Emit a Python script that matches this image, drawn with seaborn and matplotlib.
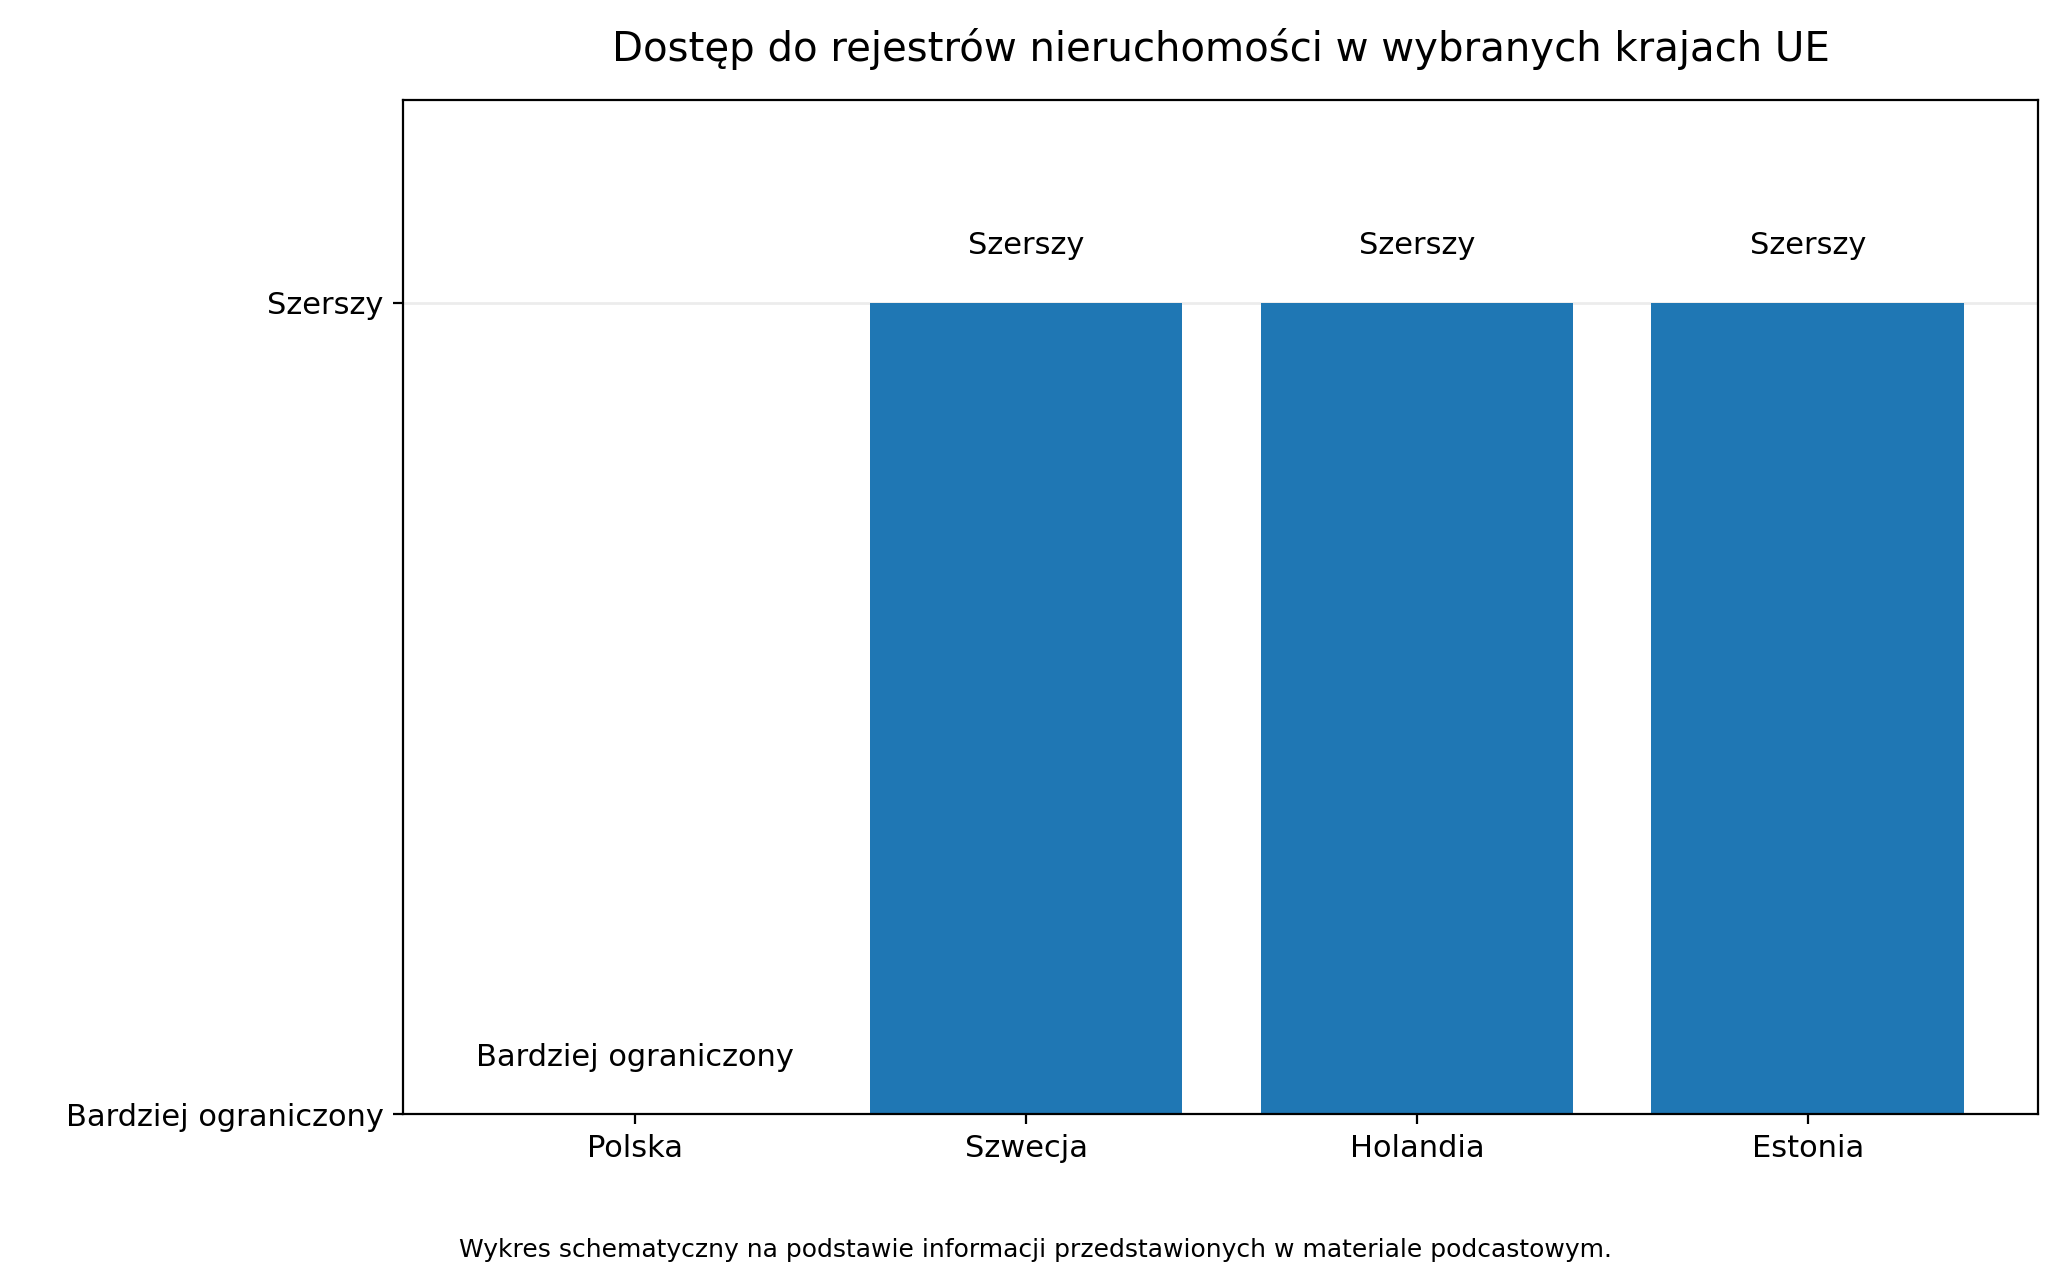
import matplotlib
matplotlib.use('Agg')
import matplotlib.pyplot as plt
import seaborn as sns
import pandas as pd

countries = ['Polska', 'Szwecja', 'Holandia', 'Estonia']
access_level = [0, 1, 1, 1]
level_labels = ['Bardziej ograniczony', 'Szerszy']

df = pd.DataFrame({'kraj': countries, 'poziom': access_level})

fig = plt.figure(figsize=(10.315, 6.39), dpi=200)
ax = fig.add_axes([0.1955, 0.128, 0.7925, 0.794])

sns.barplot(data=df, x='kraj', y='poziom', color='#1f77b4', saturation=1,
            width=0.8, ax=ax, zorder=2)

for i, v in enumerate(access_level):
    ax.text(i, v + 0.07, level_labels[v], ha='center', va='center', fontsize=11)

ax.set_xlim(-0.594, 3.59)
ax.set_ylim(0, 1.25)
ax.set_yticks([0, 1])
ax.set_yticklabels(level_labels, fontsize=11)
ax.tick_params(axis='x', labelsize=11)
ax.yaxis.grid(True, color='#ececec', linewidth=1, zorder=0)
ax.set_axisbelow(True)
ax.set_xlabel('')
ax.set_ylabel('Model dostępu', fontsize=11, labelpad=82)
ax.set_title('Dostęp do rejestrów nieruchomości w wybranych krajach UE', fontsize=14.5, pad=14)

fig.text(0.502, 0.022, 'Wykres schematyczny na podstawie informacji przedstawionych w materiale podcastowym.',
         ha='center', va='center', fontsize=9)

fig.savefig('out.png', dpi=200)
